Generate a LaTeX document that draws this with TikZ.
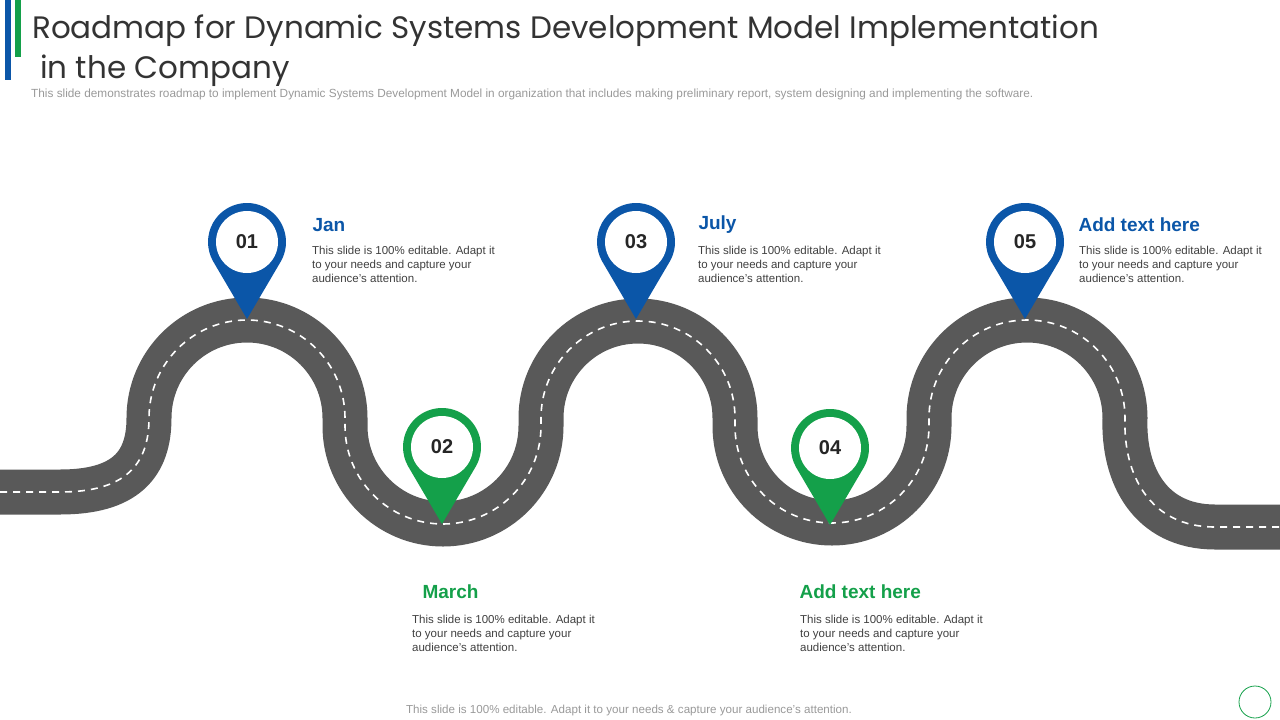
\documentclass[tikz,border=0pt]{standalone}
\usepackage{fontspec}
\usetikzlibrary{calc}
\setmainfont{Liberation Sans}
\newfontfamily\titlefont{Poppins}
\definecolor{bl}{HTML}{0B56A8}
\definecolor{gr}{HTML}{14A04A}
\definecolor{road}{HTML}{595959}
\definecolor{txt}{HTML}{404040}
\begin{document}
\begin{tikzpicture}[x=1pt,y=-1pt,
  head/.style={anchor=west,font=\bfseries\fontsize{19}{22}\selectfont},
  body/.style={anchor=north west,align=left,text=txt,font=\fontsize{11.5}{14}\selectfont,inner sep=0pt},
  num/.style={font=\bfseries\fontsize{20}{22}\selectfont,text=black!85}]
\useasboundingbox (0,0) rectangle (1280,720);
\fill[bl] (5,0) rectangle (11,80);
\fill[gr] (15,0) rectangle (21,57);
\node[anchor=west,inner sep=0pt,font=\titlefont\fontsize{31}{40}\selectfont,text=black!80,align=left] (title) at (32,51) {Roadmap for Dynamic Systems Development Model Implementation\\\hspace*{8pt}in the Company};
\node[anchor=west,inner sep=0pt,text=black!40,font=\fontsize{11.8}{13}\selectfont] (sub) at (31,94) {This slide demonstrates roadmap to implement Dynamic Systems Development Model in organization that includes making preliminary report, system designing and implementing the software.};
% road
\def\roadpath{(0,492) -- (60,492) .. controls (125,492) and (149,465) .. (149,418)
  arc[start angle=180,end angle=360,radius=98] -- ++(0,8)
  arc[start angle=180,end angle=0,radius=98] -- ++(0,-8)
  arc[start angle=180,end angle=360,radius=97] -- ++(0,8)
  arc[start angle=180,end angle=0,radius=97] -- ++(0,-8)
  arc[start angle=180,end angle=360,radius=98]
  .. controls (1123,475) and (1150,527) .. (1215,527) -- (1280,527)}
\draw[road,line width=45pt] \roadpath;
\draw[white,line width=1.6pt,dash pattern=on 7pt off 6pt] \roadpath;
% pins
\foreach \n/\x/\y/\c in {01/247/242/bl,02/442/447/gr,03/636/242/bl,04/830/448/gr,05/1025/242/bl}{
  \fill[\c] (\x,\y+77) -- ($(\x,\y)+(30:39)$) arc[start angle=30,end angle=-210,radius=39] -- cycle;
  \fill[white] (\x,\y) circle[radius=31];
  \node[num] (p\n) at (\x,\y) {\n};
}
\node[head,text=bl] (h1) at (309,225) {Jan};
\node[body] (b1) at (312,246) {This slide is 100\% editable. Adapt it\\to your needs and capture your\\audience's attention.};
\node[head,text=bl] (h3) at (695,225) {July};
\node[body] (b3) at (698,246) {This slide is 100\% editable. Adapt it\\to your needs and capture your\\audience's attention.};
\node[head,text=bl] (h5) at (1075,225) {Add text here};
\node[body] (b5) at (1079,246) {This slide is 100\% editable. Adapt it\\to your needs and capture your\\audience's attention.};
\node[head,text=gr] (h2) at (419,592) {March};
\node[body] (b2) at (412,615) {This slide is 100\% editable. Adapt it\\to your needs and capture your\\audience's attention.};
\node[head,text=gr] (h4) at (796,592) {Add text here};
\node[body] (b4) at (800,615) {This slide is 100\% editable. Adapt it\\to your needs and capture your\\audience's attention.};
\node[text=black!40,font=\fontsize{11.6}{13}\selectfont] (foot) at (629,710) {This slide is 100\% editable. Adapt it to your needs \& capture your audience's attention.};
\draw[gr,line width=0.8pt] (1255,702) circle[radius=16];
\end{tikzpicture}
\end{document}
